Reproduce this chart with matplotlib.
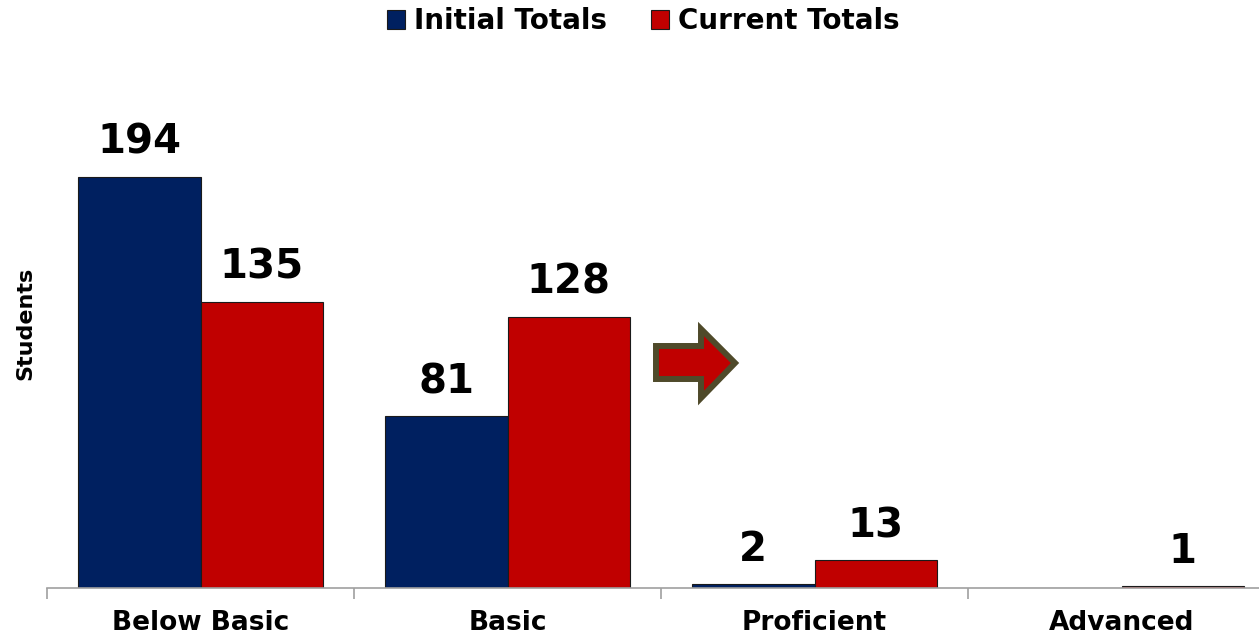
import numpy as np
import matplotlib.pyplot as plt
from matplotlib.patches import Polygon
from matplotlib.transforms import IdentityTransform

plt.rcParams['font.family'] = ['DejaVu Sans']

# Data from the chart
categories = ['Below Basic', 'Basic', 'Proficient', 'Advanced']
initial_totals = [194, 81, 2, 0]
current_totals = [135, 128, 13, 1]

navy = '#002060'
red = '#C00000'

fig = plt.figure(figsize=(12.59, 6.38), dpi=100)
ax = fig.add_axes([47 / 1259, 50 / 638, 1228 / 1259, 530 / 638])

x = np.arange(len(categories))
w = 0.4
b1 = ax.bar(x - w / 2, initial_totals, w, color=navy, edgecolor='#1a1a1a', linewidth=0.8, label='Initial Totals')
b2 = ax.bar(x + w / 2, current_totals, w, color=red, edgecolor='#1a1a1a', linewidth=0.8, label='Current Totals')

for bars, vals in [(b1, initial_totals), (b2, current_totals)]:
    for bar, v in zip(bars, vals):
        if v == 0:
            continue
        ax.annotate(str(v), (bar.get_x() + bar.get_width() / 2, v),
                    xytext=(0, 10), textcoords='offset points',
                    ha='center', va='bottom', fontsize=29, fontweight='bold')

ax.set_xlim(-0.5, len(categories) - 0.5)
ax.set_ylim(0, 250)
ax.set_xticks(x)
ax.set_xticklabels(categories, fontsize=19, fontweight='bold')
ax.set_xticks(np.arange(len(categories) + 1) - 0.5, minor=True)
ax.tick_params(axis='x', which='major', length=0, pad=16)
ax.tick_params(axis='x', which='minor', length=8, color='#a0a0a0', width=1.2)
ax.set_yticks([])
for s in ['top', 'right', 'left']:
    ax.spines[s].set_visible(False)
ax.spines['bottom'].set_color('#a0a0a0')
ax.spines['bottom'].set_linewidth(1.2)

fig.text(25 / 1259, 1 - 323 / 638, 'Students', rotation=90, ha='center', va='center',
         fontsize=16, fontweight='bold')

fig.legend(handles=[b1, b2], loc='upper center', bbox_to_anchor=(0.511, 1.028), ncol=2,
           frameon=False, prop={'weight': 'bold', 'size': 20},
           handlelength=0.65, handleheight=0.65, handletextpad=0.3, columnspacing=1.6)

# decorative arrow (pixel coordinates, y measured from the top)
H = 638
pts = [(656, 346), (701, 346), (701, 329), (735, 363), (701, 398), (701, 379), (656, 379)]
arrow = Polygon([(px, H - py) for px, py in pts], closed=True, transform=IdentityTransform(),
                facecolor=red, edgecolor='#4f4a2a', linewidth=4.3, joinstyle='miter')
fig.patches.append(arrow)

fig.savefig('out.png', dpi=100)
